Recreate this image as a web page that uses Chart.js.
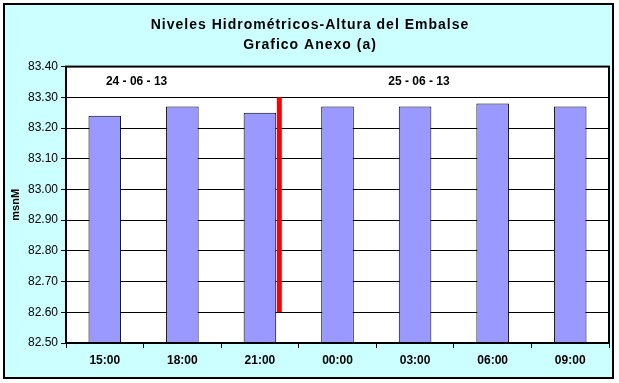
<!DOCTYPE html>
<html>
<head>
<meta charset="utf-8">
<script src="https://cdn.jsdelivr.net/npm/chart.js@4/dist/chart.umd.min.js"></script>
<style>
    html, body { margin: 0; padding: 0; background: #ffffff; }
    #frame {
        position: absolute; left: 0; top: 0;
        width: 619px; height: 383px;
    }
</style>
</head>
<body>
<div id="frame"><canvas id="nivelesChart" width="619" height="383"></canvas></div>
<script>
// Data
const horas = ['15:00', '18:00', '21:00', '00:00', '03:00', '06:00', '09:00'];
const alturas = [83.24, 83.27, 83.25, 83.27, 83.27, 83.28, 83.27];

// Red day-change marker (category position, msnM)
const marcaX = [2.25, 2.25];
const marcaY = [82.60, 83.30];

// Date labels above the bars
const fechas = ['24 - 06 - 13', '25 - 06 - 13'];
const fechasX = [0.41, 4.05];
const fechasY = [83.35, 83.35];

const titulo = ['Niveles Hidrométricos-Altura del Embalse', 'Grafico Anexo (a)'];

const yMin = 82.5;
const yMax = 83.4;

const FONT = '"Liberation Sans", Arial, sans-serif';

// Outer cyan panel with black border, white plot area
const panelPlugin = {
    id: 'panel',
    beforeDraw(chart) {
        const { ctx, chartArea } = chart;
        ctx.save();
        ctx.fillStyle = '#CCFFFF';
        ctx.fillRect(4, 4, 609, 374);
        ctx.lineWidth = 2;
        ctx.strokeStyle = '#000';
        ctx.strokeRect(4, 4, 609, 374);
        ctx.fillStyle = '#ffffff';
        ctx.fillRect(chartArea.left, chartArea.top, chartArea.right - chartArea.left, chartArea.bottom - chartArea.top);
        ctx.restore();
    },
    afterDraw(chart) {
        const { ctx, chartArea } = chart;
        ctx.save();
        ctx.lineWidth = 2;
        ctx.strokeStyle = '#000';
        ctx.strokeRect(chartArea.left, chartArea.top, chartArea.right - chartArea.left, chartArea.bottom - chartArea.top);

        // title with the wide Excel letter spacing
        ctx.font = 'bold 14px ' + FONT;
        ctx.letterSpacing = '1px';
        ctx.fillStyle = '#000';
        ctx.textAlign = 'center';
        ctx.textBaseline = 'middle';
        ctx.fillText(titulo[0], 310, 25);
        ctx.fillText(titulo[1], 310, 45);
        ctx.restore();
    }
};

// Date text drawn through the scales
const fechasPlugin = {
    id: 'fechas',
    afterDatasetsDraw(chart) {
        const { ctx, scales } = chart;
        ctx.save();
        ctx.font = 'bold 12px ' + FONT;
        ctx.fillStyle = '#000';
        ctx.textAlign = 'center';
        ctx.textBaseline = 'middle';
        fechas.forEach((txt, i) => {
            ctx.fillText(txt, scales.x2.getPixelForValue(fechasX[i]), scales.y.getPixelForValue(fechasY[i]));
        });
        ctx.restore();
    }
};

const ctx = document.getElementById('nivelesChart').getContext('2d');

new Chart(ctx, {
    type: 'bar',
    data: {
        labels: horas,
        datasets: [{
            label: 'Altura',
            data: alturas,
            backgroundColor: '#9999FF',
            borderColor: '#000000',
            borderWidth: 1,
            barPercentage: 0.42,
            categoryPercentage: 1,
            grouped: false,
            xAxisID: 'x',
            order: 2
        }, {
            type: 'scatter',
            label: 'Cambio de día',
            data: marcaX.map((x, i) => ({ x: x, y: marcaY[i] })),
            borderColor: '#FF0000',
            backgroundColor: '#FF0000',
            borderWidth: 5,
            showLine: true,
            pointRadius: 0,
            xAxisID: 'x2',
            order: 1
        }]
    },
    options: {
        responsive: false,
        animation: false,
        layout: {
            padding: { top: 5, right: 10, bottom: 0, left: 9 }
        },
        plugins: {
            legend: { display: false },
            tooltip: { enabled: false },
            title: {
                // keeps the space; the text itself is drawn by panelPlugin
                display: true,
                text: titulo,
                color: 'rgba(0,0,0,0)',
                font: { family: FONT, size: 14, weight: 'bold', lineHeight: 1.45 },
                padding: { top: 10, bottom: 11 }
            }
        },
        scales: {
            x: {
                grid: {
                    offset: true,
                    drawOnChartArea: false,
                    drawTicks: true,
                    tickLength: 5,
                    color: '#000'
                },
                border: { display: true, color: '#000', width: 2 },
                ticks: {
                    color: '#000',
                    font: { family: FONT, size: 12, weight: 'bold' },
                    padding: 5,
                    maxRotation: 0
                },
                afterFit(scale) { scale.height = 40; }
            },
            x2: {
                type: 'linear',
                display: false,
                offset: false,
                min: -0.5,
                max: 6.5
            },
            y: {
                min: yMin,
                max: yMax,
                grid: {
                    color: '#000',
                    lineWidth: 1,
                    tickLength: 5
                },
                border: { display: true, color: '#000', width: 2 },
                ticks: {
                    stepSize: 0.1,
                    color: '#000',
                    font: { family: FONT, size: 12 },
                    padding: 3,
                    callback: (value) => Number(value).toFixed(2)
                },
                title: {
                    display: true,
                    text: 'msnM',
                    color: '#000',
                    font: { family: FONT, size: 11, weight: 'bold' },
                    padding: 0
                },
                afterFit(scale) { scale.width = 57; }
            }
        }
    },
    plugins: [panelPlugin, fechasPlugin]
});
</script>
</body>
</html>
